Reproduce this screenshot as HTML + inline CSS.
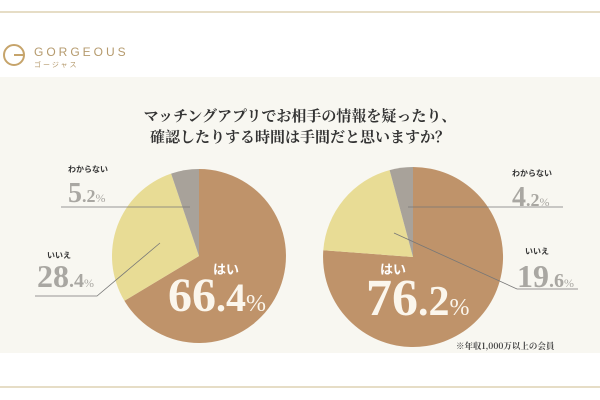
<!DOCTYPE html><html><head><meta charset="utf-8"><style>
body{margin:0;width:600px;height:400px;background:#fff;overflow:hidden;position:relative;font-family:"Liberation Serif","Noto Serif CJK SC",serif}
</style></head><body>
<svg width="600" height="400" viewBox="0 0 600 400" style="position:absolute;left:0;top:0">
<line x1="0" y1="12" x2="600" y2="12" stroke="#cdbb8e" stroke-width="1"/>
<line x1="0" y1="387" x2="600" y2="387" stroke="#cdbb8e" stroke-width="1"/>
<rect x="0" y="77" width="600" height="276" fill="#f8f7f1"/>
<circle cx="14" cy="55" r="10" fill="none" stroke="#c6a46b" stroke-width="2"/>
<line x1="14" y1="55" x2="24" y2="55" stroke="#c6a46b" stroke-width="2"/>
<text x="34" y="56" font-family="Liberation Sans,sans-serif" font-size="12" letter-spacing="3" fill="#b59a6d">GORGEOUS</text>
<text x="34" y="67" font-family="Noto Sans CJK JP,sans-serif" font-size="7" letter-spacing="2" fill="#b59a6d">ゴージャス</text>
<text x="300" y="121" text-anchor="middle" font-size="15" font-weight="bold" fill="#333" font-family="Noto Serif CJK SC,serif">マッチングアプリでお相手の情報を疑ったり、</text>
<text x="300" y="142" text-anchor="middle" font-size="15" font-weight="bold" fill="#333" font-family="Noto Serif CJK SC,serif">確認したりする時間は手間だと思いますか？</text>
<path d="M199,256 L199,169 A87,87 0 1,1 124.4,300.8 Z" fill="#bf936a"/>
<path d="M199,256 L124.4,300.8 A87,87 0 0,1 171.1,173.6 Z" fill="#e8dc95"/>
<path d="M199,256 L171.1,173.6 A87,87 0 0,1 199,169 Z" fill="#a8a29a"/>
<path d="M413,257 L413,167 A90,90 0 1,1 323.3,250.2 Z" fill="#bf936a"/>
<path d="M413,257 L323.3,250.2 A90,90 0 0,1 389.6,170.1 Z" fill="#e8dc95"/>
<path d="M413,257 L389.6,170.1 A90,90 0 0,1 413,167 Z" fill="#a8a29a"/>
<g stroke="#777" stroke-width="0.8" fill="none">
<line x1="61" y1="207" x2="190" y2="207"/>
<polyline points="35,296 97,296 160,243"/>
<line x1="408" y1="207" x2="563" y2="207"/>
<polyline points="394,233 517,289 578,289"/>
</g>
<g font-family="Noto Sans CJK JP,sans-serif" font-weight="bold" font-size="8" fill="#333">
<text x="68" y="172">わからない</text>
<text x="47" y="258">いいえ</text>
<text x="512" y="176">わからない</text>
<text x="525" y="254">いいえ</text>
</g>
<g fill="#a9a7a2" font-weight="bold">
<text x="68" y="202" font-size="28">5<tspan font-size="18">.2</tspan><tspan font-size="12" font-weight="normal">%</tspan></text>
<text x="37" y="287" font-size="32">28<tspan font-size="20">.4</tspan><tspan font-size="12" font-weight="normal">%</tspan></text>
<text x="512" y="206" font-size="28">4<tspan font-size="18">.2</tspan><tspan font-size="12" font-weight="normal">%</tspan></text>
<text x="517" y="287" font-size="32">19<tspan font-size="20">.6</tspan><tspan font-size="12" font-weight="normal">%</tspan></text>
</g>
<g fill="#fff" font-family="Noto Sans CJK JP,sans-serif" font-weight="bold" font-size="13">
<text x="213" y="274">はい</text>
<text x="380" y="274">はい</text>
</g>
<g fill="#fbf6ec" font-weight="bold">
<text x="168" y="311" font-size="48">66<tspan font-size="40">.4</tspan><tspan font-size="24" font-weight="normal">%</tspan></text>
<text x="366" y="315" font-size="52">76<tspan font-size="42">.2</tspan><tspan font-size="24" font-weight="normal">%</tspan></text>
</g>
<text x="456" y="349" font-size="8.5" font-weight="bold" fill="#444" font-family="Noto Serif CJK SC,serif">※年収1,000万以上の会員</text>
</svg>
</body></html>
